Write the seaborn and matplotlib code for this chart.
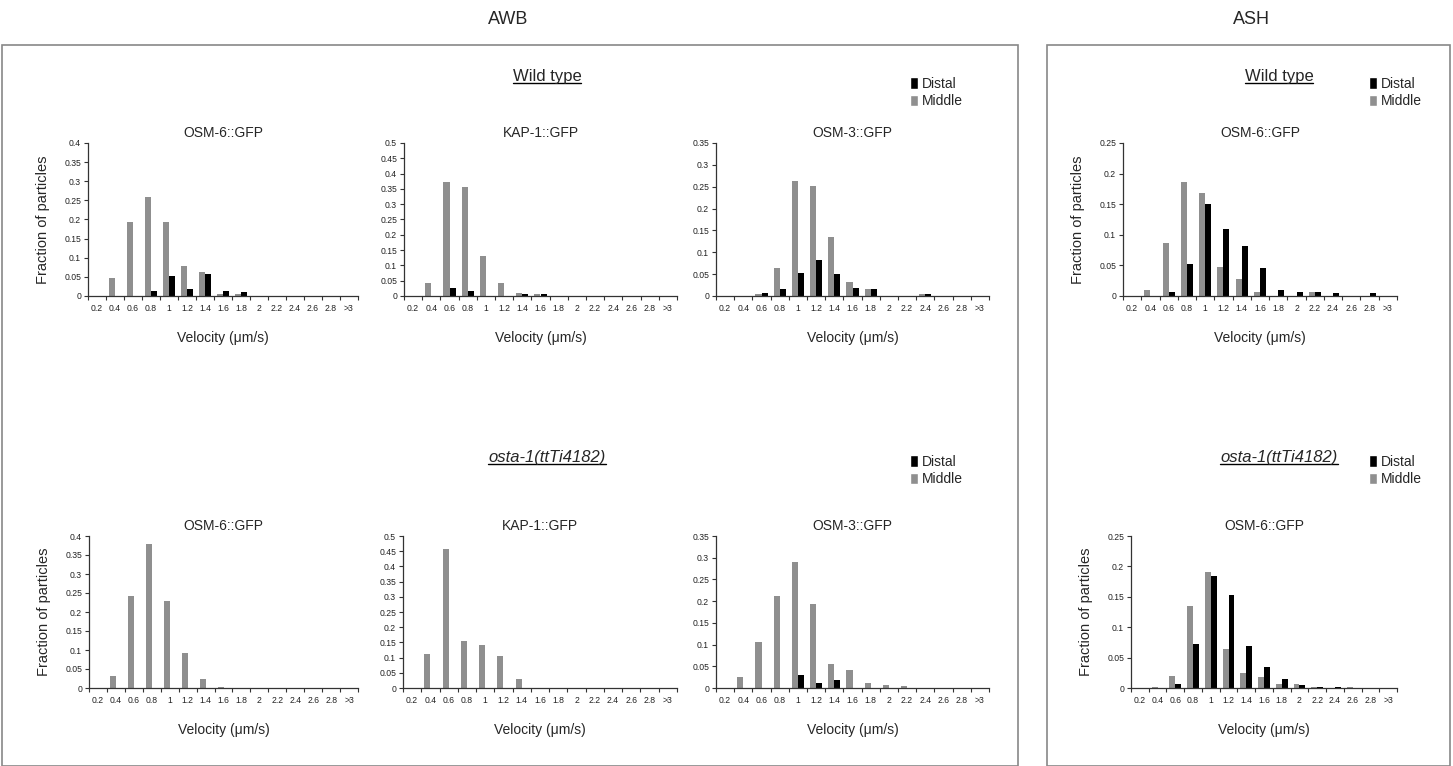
import numpy as np
import pandas as pd
import matplotlib
matplotlib.use("Agg")
import matplotlib.pyplot as plt
from matplotlib.patches import Rectangle, Patch
from matplotlib.lines import Line2D
import seaborn as sns

categories = ["0.2", "0.4", "0.6", "0.8", "1", "1.2", "1.4", "1.6", "1.8", "2",
              "2.2", "2.4", "2.6", "2.8", ">3"]

# AWB wild type
awb_wt_osm6_middle = [0, 0.046, 0.193, 0.258, 0.193, 0.079, 0.063, 0.006, 0.006, 0, 0, 0, 0, 0, 0]
awb_wt_osm6_distal = [0, 0, 0, 0.014, 0.053, 0.019, 0.058, 0.014, 0.011, 0, 0, 0, 0, 0, 0]
awb_wt_kap1_middle = [0, 0.042, 0.371, 0.355, 0.130, 0.042, 0.011, 0.006, 0, 0, 0, 0, 0, 0, 0]
awb_wt_kap1_distal = [0, 0, 0.026, 0.016, 0, 0, 0.006, 0.006, 0, 0, 0, 0, 0, 0, 0]
awb_wt_osm3_middle = [0, 0, 0.005, 0.063, 0.262, 0.251, 0.136, 0.032, 0.016, 0, 0, 0.005, 0, 0, 0]
awb_wt_osm3_distal = [0, 0, 0.007, 0.016, 0.053, 0.082, 0.051, 0.019, 0.016, 0, 0, 0.005, 0, 0, 0]
# ASH wild type
ash_wt_osm6_middle = [0, 0.010, 0.086, 0.186, 0.168, 0.047, 0.028, 0.007, 0, 0, 0.007, 0, 0, 0, 0]
ash_wt_osm6_distal = [0, 0, 0.007, 0.052, 0.151, 0.110, 0.082, 0.046, 0.010, 0.007, 0.007, 0.005, 0, 0.005, 0]
# AWB osta-1
awb_mut_osm6_middle = [0, 0.032, 0.241, 0.380, 0.230, 0.093, 0.024, 0.003, 0, 0, 0, 0, 0, 0, 0]
awb_mut_osm6_distal = [0] * 15
awb_mut_kap1_middle = [0, 0.112, 0.458, 0.155, 0.141, 0.106, 0.030, 0, 0, 0, 0, 0, 0, 0, 0]
awb_mut_kap1_distal = [0] * 15
awb_mut_osm3_middle = [0, 0.026, 0.106, 0.212, 0.290, 0.194, 0.055, 0.042, 0.012, 0.008, 0.005, 0, 0, 0, 0]
awb_mut_osm3_distal = [0, 0, 0, 0, 0.030, 0.012, 0.019, 0, 0, 0, 0, 0, 0, 0, 0]
# ASH osta-1
ash_mut_osm6_middle = [0, 0.002, 0.019, 0.135, 0.191, 0.064, 0.025, 0.018, 0.006, 0.006, 0.002, 0, 0.001, 0, 0]
ash_mut_osm6_distal = [0, 0, 0.007, 0.072, 0.184, 0.153, 0.069, 0.034, 0.015, 0.005, 0.002, 0.002, 0, 0, 0]

panel_titles = ["OSM-6::GFP", "KAP-1::GFP", "OSM-3::GFP", "OSM-6::GFP",
                "OSM-6::GFP", "KAP-1::GFP", "OSM-3::GFP", "OSM-6::GFP"]
panel_ymax = [0.4, 0.5, 0.35, 0.25, 0.4, 0.5, 0.35, 0.25]
panel_middle = [awb_wt_osm6_middle, awb_wt_kap1_middle, awb_wt_osm3_middle, ash_wt_osm6_middle,
                awb_mut_osm6_middle, awb_mut_kap1_middle, awb_mut_osm3_middle, ash_mut_osm6_middle]
panel_distal = [awb_wt_osm6_distal, awb_wt_kap1_distal, awb_wt_osm3_distal, ash_wt_osm6_distal,
                awb_mut_osm6_distal, awb_mut_kap1_distal, awb_mut_osm3_distal, ash_mut_osm6_distal]

W, H = 1453, 766
sns.set_theme(style="white")
plt.rcParams['font.family'] = ['Liberation Sans', 'DejaVu Sans']

fig = plt.figure(figsize=(W / 100, H / 100), dpi=100)
fig.patch.set_facecolor("white")

def rect(x0, x1, ytop, ybot):
    return [x0 / W, 1 - ybot / H, (x1 - x0) / W, (ybot - ytop) / H]

# axes pixel boxes: (x0, x1, ytop, ybot)
boxes = [(88, 358, 143, 296), (404, 677, 143, 296), (716, 989, 143, 296), (1123, 1397, 143, 296),
         (89, 358, 536, 688), (403, 677, 536, 688), (716, 989, 536, 688), (1131, 1397, 536, 688)]
ylabel_panels = {0, 3, 4, 7}

palette = {"Middle": "#8f8f8f", "Distal": "#000000"}

for i in range(8):
    ax = fig.add_axes(rect(*boxes[i]))
    df = pd.DataFrame({
        "Velocity": categories * 2,
        "Fraction": list(panel_middle[i]) + list(panel_distal[i]),
        "Region": ["Middle"] * 15 + ["Distal"] * 15,
    })
    sns.barplot(data=df, x="Velocity", y="Fraction", hue="Region",
                hue_order=["Middle", "Distal"], order=categories,
                palette=palette, width=0.66, ax=ax, legend=False,
                saturation=1, linewidth=0)
    ymax = panel_ymax[i]
    ax.set_ylim(0, ymax)
    ax.set_xlim(-0.5, 14.5)
    yt = np.round(np.arange(0, ymax + 1e-9, 0.05), 2)
    ax.set_yticks(yt)
    ax.set_yticklabels(["%g" % v for v in yt])
    ax.set_xticks(range(15))
    ax.set_xticklabels(categories)
    ax.set_xticks(np.arange(-0.5, 15, 1.0), minor=True)
    ax.tick_params(axis="x", which="major", length=0, labelsize=6.2, pad=6, colors="#222222")
    ax.tick_params(axis="x", which="minor", length=3, width=0.8, direction="out",
                   color="#333333", bottom=True)
    ax.tick_params(axis="y", which="major", length=3, width=0.8, direction="out",
                   labelsize=6.2, pad=2, left=True, color="#333333", labelcolor="#222222")
    for s in ["top", "right"]:
        ax.spines[s].set_visible(False)
    for s in ["left", "bottom"]:
        ax.spines[s].set_color("#333333")
        ax.spines[s].set_linewidth(0.9)
    ax.set_title(panel_titles[i], fontsize=10, pad=4)
    ax.set_xlabel("Velocity (\u03bcm/s)", fontsize=10, labelpad=13)
    if i in ylabel_panels:
        ax.set_ylabel("Fraction of particles", fontsize=10.5, labelpad=10)
    else:
        ax.set_ylabel("")

# group boxes
fig.add_artist(Rectangle((2 / W, 0), (1018 - 2) / W, 1 - 45 / H, transform=fig.transFigure,
                         fill=False, edgecolor="#888888", linewidth=1.2))
fig.add_artist(Rectangle((1047 / W, 0), (1450 - 1047) / W, 1 - 45 / H, transform=fig.transFigure,
                         fill=False, edgecolor="#888888", linewidth=1.2))

fig.text(508 / W, 1 - 20 / H, "AWB", ha="center", va="center", fontsize=13)
fig.text(1251 / W, 1 - 20 / H, "ASH", ha="center", va="center", fontsize=13)

underlined = []
for x in (547, 1279):
    underlined.append(fig.text(x / W, 1 - 76 / H, "Wild type", ha="center", va="center", fontsize=12))
    underlined.append(fig.text(x / W, 1 - 457 / H, "osta-1(ttTi4182)", ha="center", va="center",
                               fontsize=12, style="italic"))

handles = [Patch(facecolor="#000000", label="Distal"), Patch(facecolor="#8f8f8f", label="Middle")]
for (lx, ly) in [(910, 77), (1369, 77), (910, 455), (1369, 455)]:
    fig.legend(handles=handles, loc="upper left", bbox_to_anchor=(lx / W, 1 - ly / H),
               frameon=False, fontsize=10, handlelength=0.6, handleheight=0.9,
               handletextpad=0.25, labelspacing=0.25, borderaxespad=0, borderpad=0)

fig.canvas.draw()
renderer = fig.canvas.get_renderer()
for t in underlined:
    bb = t.get_window_extent(renderer=renderer)
    x0, x1 = bb.x0 / (W), bb.x1 / (W)
    yb = (bb.y0 + 1) / H
    fig.add_artist(Line2D([x0, x1], [yb, yb], transform=fig.transFigure, color="black", linewidth=1))

fig.savefig("out.png", dpi=100)
